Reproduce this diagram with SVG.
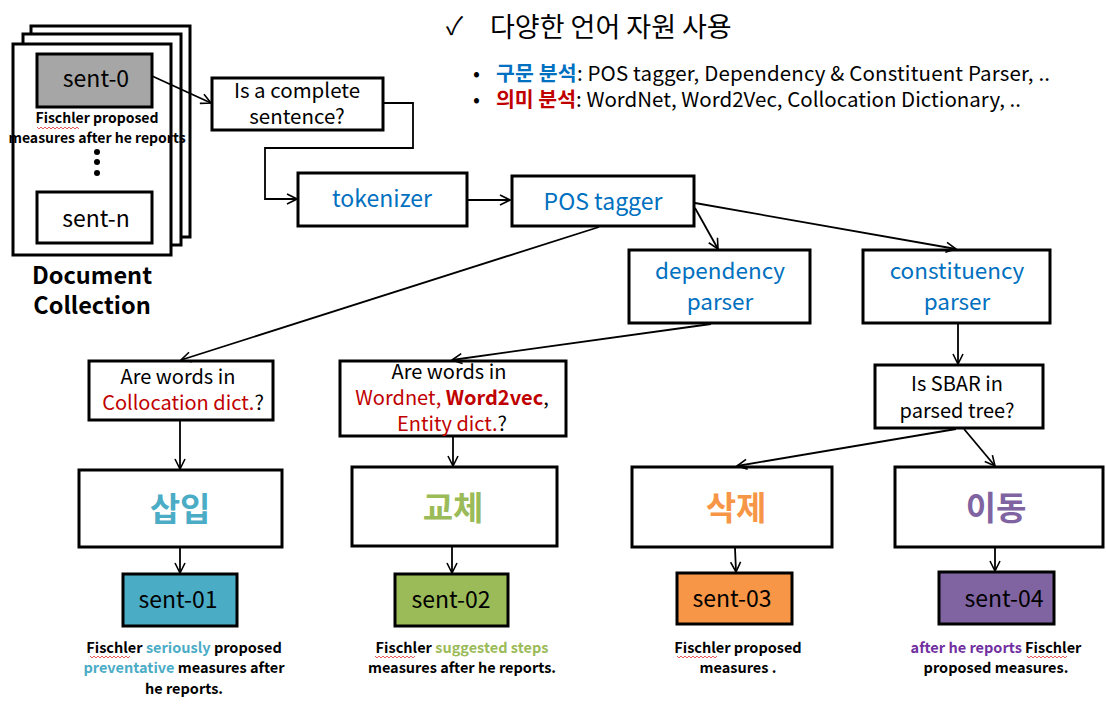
<svg xmlns="http://www.w3.org/2000/svg" width="1106" height="706" viewBox="0 0 1106 706">
<defs>
<marker id="arr" markerWidth="12" markerHeight="12" viewBox="0 0 12 12" refX="11" refY="6" orient="auto" markerUnits="userSpaceOnUse">
<path d="M1,1 L11,6 L1,11" fill="none" stroke="#000" stroke-width="1.6"/>
</marker>
</defs>
<style>
text{font-family:"Noto Sans CJK KR","Noto Sans",sans-serif;}
.box{fill:#fff;stroke:#000;stroke-width:3;}
.t{font-size:20px;fill:#000;text-anchor:middle;}
.bl{font-size:22.5px;fill:#0070c0;text-anchor:middle;}
.red{fill:#c00000;}
.cap{font-size:14.5px;font-weight:bold;fill:#000;text-anchor:middle;}
.big{font-size:33px;font-weight:bold;text-anchor:middle;}
.sent{font-size:23px;fill:#000;text-anchor:middle;}
.conn{fill:none;stroke:#000;stroke-width:1.8;}
.sq{fill:none;stroke:#e03030;stroke-width:0.8;}
</style>
<rect width="1106" height="706" fill="#fff"/>

<g id="header">
<text x="446" y="35" style="font-size:25px" fill="#000">✓</text>
<text x="490" y="37" style="font-size:27px" fill="#000">다양한 언어 자원 사용</text>
<text style="font-size:20.5px" fill="#000"><tspan x="473" y="81">•</tspan><tspan x="473" y="107">•</tspan></text>
<text style="font-size:20.5px" fill="#000" textLength="554"><tspan x="496" y="81"><tspan font-weight="bold" fill="#0070c0">구문 분석</tspan>: POS tagger, Dependency &amp; Constituent Parser, ..</tspan></text>
<text style="font-size:20.5px" fill="#000"><tspan x="496" y="107"><tspan font-weight="bold" fill="#c00000">의미 분석</tspan>: WordNet, Word2Vec, Collocation Dictionary, ..</tspan></text>
</g>

<g id="doc-collection">
<rect class="box" x="31" y="26" width="159" height="211"/>
<rect class="box" x="23" y="34" width="158" height="211"/>
<rect class="box" x="13" y="44" width="158" height="211"/>
<rect x="37" y="54" width="115" height="53" fill="#a6a6a6" stroke="#000" stroke-width="3"/>
<text class="sent" x="96" y="87">sent-0</text>
<text class="cap" style="font-size:14px"><tspan x="97" y="123">Fischler proposed</tspan><tspan x="97" y="143">measures after he reports</tspan></text>
<path class="sq" d="M37,127 l2,2 l2,-2 l2,2 l2,-2 l2,2 l2,-2 l2,2 l2,-2 l2,2 l2,-2 l2,2 l2,-2 l2,2 l2,-2 l2,2 l2,-2 l2,2 l2,-2 l2,2 l2,-2 l2,2"/>
<circle cx="97" cy="152" r="3" fill="#000"/>
<circle cx="97" cy="162" r="3" fill="#000"/>
<circle cx="97" cy="173" r="3" fill="#000"/>
<rect class="box" x="37" y="192" width="115" height="51"/>
<text class="sent" x="96" y="227">sent-n</text>
<text style="font-size:23.5px;font-weight:bold" text-anchor="middle"><tspan x="92" y="284">Document</tspan><tspan x="92" y="314">Collection</tspan></text>
</g>

<g id="complete-check">
<rect class="box" x="212" y="78" width="171" height="52"/>
<text class="t" style="font-size:20.5px"><tspan x="297" y="98">Is a complete</tspan><tspan x="297" y="124">sentence?</tspan></text>
</g>

<g id="tokenizer">
<rect class="box" x="298" y="173" width="169" height="53"/>
<text class="bl" x="382" y="207" style="font-size:23px">tokenizer</text>
</g>

<g id="pos-tagger">
<rect class="box" x="512" y="176" width="182" height="50"/>
<text class="bl" x="603" y="210" style="font-size:23px">POS tagger</text>
</g>

<g id="dependency-parser">
<rect class="box" x="629" y="250" width="181" height="73"/>
<text class="bl"><tspan x="720" y="279">dependency</tspan><tspan x="720" y="310">parser</tspan></text>
</g>

<g id="constituency-parser">
<rect class="box" x="863" y="250" width="187" height="73"/>
<text class="bl"><tspan x="957" y="279">constituency</tspan><tspan x="957" y="310">parser</tspan></text>
</g>

<g id="q-collocation">
<rect class="box" x="89" y="361" width="184" height="59"/>
<text class="t"><tspan x="178" y="384">Are words in</tspan><tspan x="183" y="410"><tspan class="red">Collocation dict.</tspan>?</tspan></text>
</g>

<g id="q-wordnet">
<rect class="box" x="340" y="361" width="226" height="75"/>
<text class="t"><tspan x="449" y="379">Are words in</tspan><tspan x="452" y="405"><tspan class="red">Wordnet, </tspan><tspan class="red" font-weight="bold">Word2vec</tspan>,</tspan><tspan x="452" y="431"><tspan class="red">Entity dict.</tspan>?</tspan></text>
</g>

<g id="q-sbar">
<rect class="box" x="875" y="365" width="168" height="63"/>
<text class="t"><tspan x="957" y="391">Is SBAR in</tspan><tspan x="957" y="418">parsed tree?</tspan></text>
</g>

<g id="insert">
<rect class="box" x="79" y="470" width="203" height="77"/>
<text class="big" x="180" y="521" fill="#4bacc6">삽입</text>
</g>
<g id="replace">
<rect class="box" x="352" y="467" width="205" height="79"/>
<text class="big" x="453" y="520" fill="#9bbb59">교체</text>
</g>
<g id="delete">
<rect class="box" x="632" y="467" width="200" height="80"/>
<text class="big" x="736" y="520" fill="#f79646">삭제</text>
</g>
<g id="move">
<rect class="box" x="895" y="467" width="208" height="80"/>
<text class="big" x="996" y="520" fill="#8064a2">이동</text>
</g>

<g id="sent-01">
<rect x="123" y="574" width="114" height="52" fill="#4bacc6" stroke="#000" stroke-width="3"/>
<text class="sent" x="178" y="608">sent-01</text>
<text class="cap"><tspan x="184" y="653">Fischler <tspan fill="#4bacc6">seriously</tspan> proposed</tspan><tspan x="184" y="673"><tspan fill="#4bacc6">preventative</tspan> measures after</tspan><tspan x="184" y="694">he reports.</tspan></text>
<path class="sq" d="M90,656 l2,2 l2,-2 l2,2 l2,-2 l2,2 l2,-2 l2,2 l2,-2 l2,2 l2,-2 l2,2 l2,-2 l2,2 l2,-2 l2,2 l2,-2 l2,2 l2,-2 l2,2 l2,-2"/>
</g>
<g id="sent-02">
<rect x="395" y="574" width="113" height="52" fill="#9bbb59" stroke="#000" stroke-width="3"/>
<text class="sent" x="451" y="608">sent-02</text>
<text class="cap"><tspan x="462" y="653">Fischler <tspan fill="#9bbb59">suggested steps</tspan></tspan><tspan x="462" y="673">measures after he reports.</tspan></text>
<path class="sq" d="M375,656 l2,2 l2,-2 l2,2 l2,-2 l2,2 l2,-2 l2,2 l2,-2 l2,2 l2,-2 l2,2 l2,-2 l2,2 l2,-2 l2,2 l2,-2 l2,2 l2,-2 l2,2 l2,-2"/>
</g>
<g id="sent-03">
<rect x="677" y="573" width="115" height="51" fill="#f79646" stroke="#000" stroke-width="3"/>
<text class="sent" x="732" y="607">sent-03</text>
<text class="cap"><tspan x="738" y="653">Fischler proposed</tspan><tspan x="738" y="673">measures .</tspan></text>
<path class="sq" d="M677,656 l2,2 l2,-2 l2,2 l2,-2 l2,2 l2,-2 l2,2 l2,-2 l2,2 l2,-2 l2,2 l2,-2 l2,2 l2,-2 l2,2 l2,-2 l2,2 l2,-2 l2,2 l2,-2"/>
</g>
<g id="sent-04">
<rect x="939" y="572" width="115" height="52" fill="#8064a2" stroke="#000" stroke-width="3"/>
<text class="sent" x="1004" y="607">sent-04</text>
<text class="cap"><tspan x="996" y="653"><tspan fill="#7030a0">after he reports</tspan> Fischler</tspan><tspan x="996" y="673">proposed measures.</tspan></text>
<path class="sq" d="M1027,656 l2,2 l2,-2 l2,2 l2,-2 l2,2 l2,-2 l2,2 l2,-2 l2,2 l2,-2 l2,2 l2,-2 l2,2 l2,-2 l2,2 l2,-2 l2,2 l2,-2 l2,2 l2,-2"/>
</g>

<g id="connectors">
<line class="conn" x1="152" y1="76" x2="211" y2="103" marker-end="url(#arr)"/>
<polyline class="conn" points="383,103 413,103 413,148 265,148 265,199 297,199" marker-end="url(#arr)"/>
<line class="conn" x1="467" y1="200" x2="510" y2="200" marker-end="url(#arr)"/>
<line class="conn" x1="695" y1="208" x2="718" y2="249" marker-end="url(#arr)"/>
<line class="conn" x1="695" y1="203" x2="956" y2="249" marker-end="url(#arr)"/>
<line class="conn" x1="599" y1="227" x2="181" y2="360" marker-end="url(#arr)"/>
<line class="conn" x1="711" y1="324" x2="452" y2="360" marker-end="url(#arr)"/>
<line class="conn" x1="958" y1="324" x2="958" y2="364" marker-end="url(#arr)"/>
<line class="conn" x1="180" y1="421" x2="180" y2="469" marker-end="url(#arr)"/>
<line class="conn" x1="453" y1="437" x2="453" y2="466" marker-end="url(#arr)"/>
<line class="conn" x1="956" y1="429" x2="737" y2="466" marker-end="url(#arr)"/>
<line class="conn" x1="964" y1="429" x2="995" y2="466" marker-end="url(#arr)"/>
<line class="conn" x1="180" y1="547" x2="180" y2="573" marker-end="url(#arr)"/>
<line class="conn" x1="452" y1="547" x2="452" y2="573" marker-end="url(#arr)"/>
<line class="conn" x1="735" y1="548" x2="736" y2="572" marker-end="url(#arr)"/>
<line class="conn" x1="995" y1="548" x2="995" y2="571" marker-end="url(#arr)"/>
</g>
</svg>
